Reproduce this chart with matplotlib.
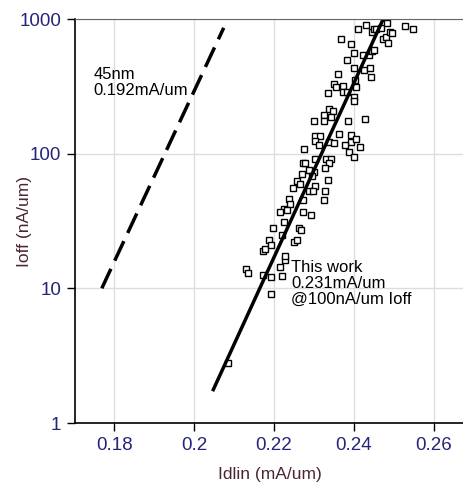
import matplotlib
matplotlib.use('Agg')
import matplotlib.pyplot as plt
import numpy as np

# measured devices (Idlin mA/um, Ioff nA/um)
idlin = [0.2409, 0.2429, 0.2444, 0.2449, 0.2456, 0.2468, 0.2472, 0.2479, 0.2483, 0.2484,
         0.2491, 0.2495, 0.2528, 0.2548, 0.2368, 0.2393, 0.2399, 0.2383, 0.2423, 0.2437,
         0.2445, 0.2449, 0.2400, 0.2426, 0.2439, 0.2442, 0.2360, 0.2351, 0.2356, 0.2372,
         0.2373, 0.2383, 0.2403, 0.2406, 0.2335, 0.2400, 0.2400, 0.2338, 0.2348, 0.2324,
         0.2299, 0.2326, 0.2343, 0.2384, 0.2427, 0.2303, 0.2314, 0.2303, 0.2313, 0.2337,
         0.2351, 0.2363, 0.2393, 0.2393, 0.2405, 0.2416, 0.2378, 0.2388, 0.2400, 0.2274,
         0.2273, 0.2278, 0.2303, 0.2330, 0.2342, 0.2338, 0.2299, 0.2328, 0.2270, 0.2287,
         0.2295, 0.2336, 0.2258, 0.2266, 0.2247, 0.2303, 0.2288, 0.2297, 0.2327, 0.2325,
         0.2273, 0.2237, 0.2241, 0.2225, 0.2233, 0.2214, 0.2273, 0.2293, 0.2226, 0.2263,
         0.2267, 0.2198, 0.2187, 0.2220, 0.2249, 0.2258, 0.2173, 0.2177, 0.2130, 0.2135,
         0.2173, 0.2193, 0.2220, 0.2214, 0.2227, 0.2228, 0.2193, 0.2193, 0.2085]
ioff = [838, 902, 805, 838, 838, 853, 706, 739, 929, 659,
        796, 782, 887, 838, 706, 648, 556, 496, 541, 541,
        582, 589, 430, 418, 430, 373, 388, 327, 314, 318,
        288, 288, 352, 314, 284, 262, 248, 213, 207, 194,
        175, 175, 188, 175, 181, 136, 136, 124, 115, 123,
        119, 139, 138, 123, 129, 113, 115, 103, 94, 108,
        85, 85, 91, 91, 91, 85, 73, 78, 71, 75,
        68, 64, 63, 60, 56, 58, 53, 53, 53, 45,
        45, 46, 42, 39, 38, 37, 37, 35, 31, 28,
        27, 28, 23, 25, 22, 23, 18.8, 19.6, 13.9, 13.0,
        12.5, 12.1, 12.3, 14.4, 16.3, 17.5, 9.0, 21, 2.8]

# trend lines
fit_x = [0.2048, 0.2475]
fit_y = [1.77, 1030]
ref45_x = [0.1769, 0.2074]
ref45_y = [10, 860]

plt.rcParams['font.family'] = ['Liberation Sans', 'DejaVu Sans']

fig = plt.figure(figsize=(4.64, 4.87), dpi=100)
ax = fig.add_axes([75/464, 1 - 423/487, 1 - 75/464, (423 - 19)/487])

ax.plot(ref45_x, ref45_y, color='black', lw=2.5, dashes=(6.2, 2.6), solid_capstyle='butt')
ax.plot(idlin, ioff, 's', ms=3.7, mfc='white', mec='black', mew=1.0, ls='none')
ax.plot(fit_x, fit_y, color='black', lw=2.5)

ax.set_yscale('log')
ax.set_xlim(0.1702, 0.2675)
ax.set_ylim(1, 1000)
ax.set_xticks([0.18, 0.2, 0.22, 0.24, 0.26])
ax.set_xticklabels(['0.18', '0.2', '0.22', '0.24', '0.26'])
ax.set_yticks([1, 10, 100, 1000])
ax.set_yticklabels(['1', '10', '100', '1000'])
ax.minorticks_off()

ax.grid(True, color='#dddddd', lw=1)
ax.set_axisbelow(True)
ax.spines['right'].set_visible(False)
ax.spines['top'].set_color('#666666')
for s in ['left', 'bottom']:
    ax.spines[s].set_color('black')
    ax.spines[s].set_linewidth(1.2)
ax.tick_params(direction='out', length=6, width=1, labelsize=13.5, labelcolor='#24247a', pad=4)

ax.set_xlabel('Idlin (mA/um)', fontsize=12.5, color='#4a2535')
ax.set_ylabel('Ioff (nA/um)', fontsize=12.5, color='#4a2535')
ax.xaxis.set_label_coords(0.5, (423 - 467) / 404)
ax.yaxis.set_label_coords((32 - 75) / 389, 0.5)

ax.text(0.17475, 440, '45nm\n0.192mA/um', fontsize=12, va='top', ha='left', linespacing=1.1)
ax.text(0.22425, 16.3, 'This work\n0.231mA/um\n@100nA/um Ioff', fontsize=12, va='top', ha='left',
        linespacing=1.1)

fig.savefig('out.png', dpi=100)
